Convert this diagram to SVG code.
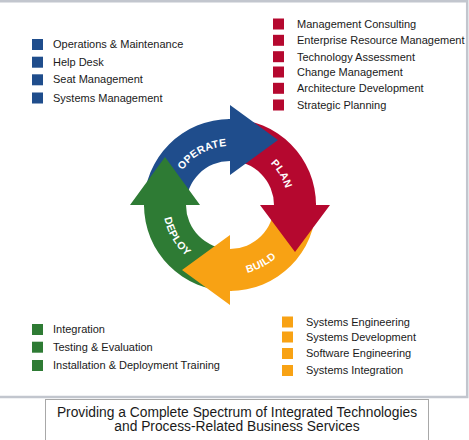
<svg xmlns="http://www.w3.org/2000/svg" width="469" height="440" viewBox="0 0 469 440">
<style>
.lg{font-family:"Liberation Sans",Arial,sans-serif;font-size:11px;fill:#1a1a1a}
.cap{font-family:"Liberation Sans",Arial,sans-serif;font-size:13.8px;fill:#1a1a1a;text-anchor:middle}
.lab{font-family:"Liberation Sans",Arial,sans-serif;font-size:10.5px;font-weight:bold;fill:#ffffff;letter-spacing:0.3px}
.bl{fill:#1f4d8c}.rd{fill:#b5082f}.or{fill:#f8a214}.gr{fill:#2e7b34}
.frame{stroke:#c2c6ce;stroke-width:2.5;fill:none}
</style>
<defs>
<path id="pOp" d="M171.02,203.56 A59,59 0 0 1 260.74,154.64"/>
<path id="pPl" d="M228.99,147.01 A58,58 0 0 1 280.73,233.12"/>
<path id="pBu" d="M206.06,270.78 A70,70 0 0 0 297.92,221.93"/>
<path id="pDe" d="M166.10,184.85 A67,67 0 0 0 216.64,270.65"/>
</defs>
<rect width="469" height="440" fill="#ffffff"/>
<g id="frame">
<path class="frame" d="M0,1.2 H467.2 V397 H0"/>
<rect x="45.5" y="399.5" width="383" height="45" fill="none" stroke="#a8a8a8" stroke-width="1"/>
</g>
<g id="cycle">
<g id="bodies">
<path class="bl" d="M144,205 A86,86 0 0 1 230,119 L230,161 A44,44 0 0 0 186,205 Z"/>
<path class="rd" d="M230,119 A86,86 0 0 1 316,205 L274,205 A44,44 0 0 0 230,161 Z"/>
<path class="or" d="M316,205 A86,86 0 0 1 230,291 L230,249 A44,44 0 0 0 274,205 Z"/>
<path class="gr" d="M230,291 A86,86 0 0 1 144,205 L186,205 A44,44 0 0 0 230,249 Z"/>
</g>
<g id="heads">
<path class="bl" d="M230,105 L278,140 L230,175 L230,161 L228,161 L228,119 L230,119 Z"/>
<path class="rd" d="M330,205 L295,252 L260,205 L274,205 L274,203 L316,203 L316,205 Z"/>
<path class="or" d="M230,305 L182,270 L230,235 L230,249 L232,249 L232,291 L230,291 Z"/>
<path class="gr" d="M130,205 L165,157 L200,205 L186,205 L186,207 L144,207 L144,205 Z"/>
</g>
<g id="labels">
<text class="lab"><textPath href="#pOp" startOffset="50%" text-anchor="middle">OPERATE</textPath></text>
<text class="lab"><textPath href="#pPl" startOffset="50%" text-anchor="middle">PLAN</textPath></text>
<text class="lab"><textPath href="#pBu" startOffset="50%" text-anchor="middle">BUILD</textPath></text>
<text class="lab"><textPath href="#pDe" startOffset="50%" text-anchor="middle">DEPLOY</textPath></text>
</g>
</g>
<g id="operate-list">
<rect class="bl" x="32" y="39" width="11" height="11"/><text class="lg" x="53" y="48">Operations &amp; Maintenance</text>
<rect class="bl" x="32" y="56.7" width="11" height="11"/><text class="lg" x="53" y="65.7">Help Desk</text>
<rect class="bl" x="32" y="74.3" width="11" height="11"/><text class="lg" x="53" y="83.3">Seat Management</text>
<rect class="bl" x="32" y="92.5" width="11" height="11"/><text class="lg" x="53" y="101.5">Systems Management</text>
</g>
<g id="plan-list">
<rect class="rd" x="273" y="18.5" width="11" height="11"/><text class="lg" x="297" y="28">Management Consulting</text>
<rect class="rd" x="273" y="34.8" width="11" height="11"/><text class="lg" x="297" y="44.3">Enterprise Resource Management</text>
<rect class="rd" x="273" y="51.2" width="11" height="11"/><text class="lg" x="297" y="60.7">Technology Assessment</text>
<rect class="rd" x="273" y="66.5" width="11" height="11"/><text class="lg" x="297" y="76">Change Management</text>
<rect class="rd" x="273" y="82.8" width="11" height="11"/><text class="lg" x="297" y="92.3">Architecture Development</text>
<rect class="rd" x="273" y="99.5" width="11" height="11"/><text class="lg" x="297" y="109">Strategic Planning</text>
</g>
<g id="deploy-list">
<rect class="gr" x="32" y="324" width="11" height="11"/><text class="lg" x="53" y="333.3">Integration</text>
<rect class="gr" x="32" y="341.7" width="11" height="11"/><text class="lg" x="53" y="351">Testing &amp; Evaluation</text>
<rect class="gr" x="32" y="360" width="11" height="11"/><text class="lg" x="53" y="369.3">Installation &amp; Deployment Training</text>
</g>
<g id="build-list">
<rect class="or" x="282" y="316.5" width="11" height="11"/><text class="lg" x="306" y="325.7">Systems Engineering</text>
<rect class="or" x="282" y="331.5" width="11" height="11"/><text class="lg" x="306" y="340.7">Systems Development</text>
<rect class="or" x="282" y="348" width="11" height="11"/><text class="lg" x="306" y="357.3">Software Engineering</text>
<rect class="or" x="282" y="365" width="11" height="11"/><text class="lg" x="306" y="374.3">Systems Integration</text>
</g>
<g id="caption">
<text class="cap" x="237" y="416.7">Providing a Complete Spectrum of Integrated Technologies</text>
<text class="cap" x="237" y="430.7">and Process-Related Business Services</text>
</g>
</svg>
